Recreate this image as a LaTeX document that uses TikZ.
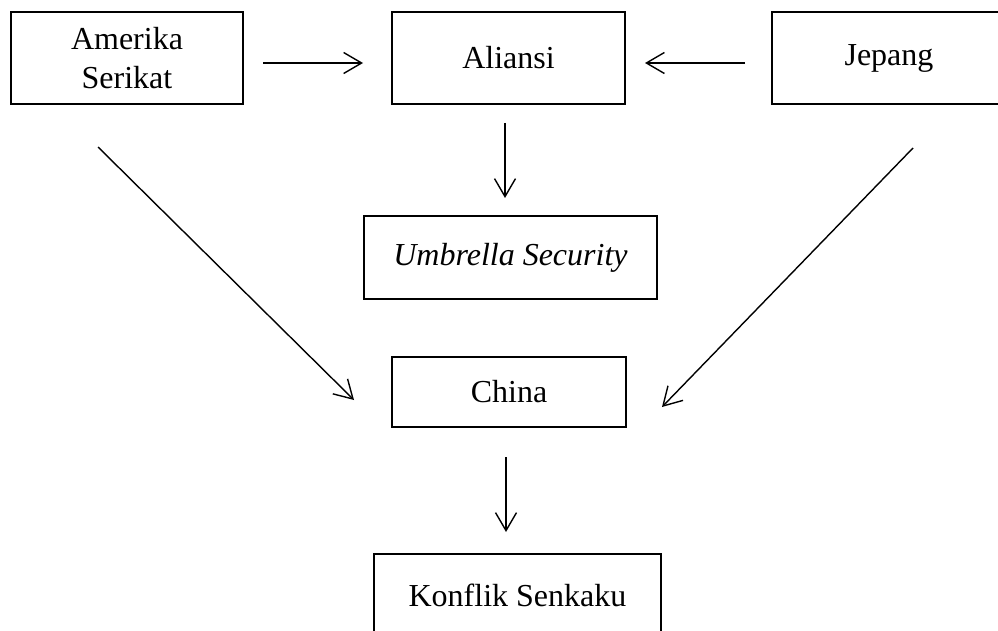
\documentclass[tikz,border=0pt]{standalone}
\usepackage{fontspec}
\setmainfont{Liberation Serif}
\usetikzlibrary{arrows.meta}
\begin{document}
\begin{tikzpicture}[x=1pt,y=-1pt,
  box/.style={draw=black,line width=2.6pt,rectangle,inner sep=0pt,align=center,
    font=\fontsize{32}{39}\selectfont},
  conn/.style={draw=black,line width=1.4pt,-{Straight Barb[length=18pt,width=21pt,line width=1.4pt]}}]
\useasboundingbox (0,0) rectangle (998,631);
\fill[white] (0,0) rectangle (998,631);
\node[box,minimum width=232pt,minimum height=92pt] (as) at (127,58) {Amerika\\Serikat};
\node[box,minimum width=233pt,minimum height=92pt] (al) at (508.5,58) {Aliansi};
\node[box,minimum width=234pt,minimum height=92pt] (jp) at (889,58) {Jepang};
\node[box,minimum width=293pt,minimum height=83pt] (us) at (510.5,257.5) {\itshape Umbrella Security};
\node[box,minimum width=234pt,minimum height=70pt] (cn) at (509,392) {China};
\node[box,minimum width=287pt,minimum height=82pt] (ks) at (517.5,595) {Konflik Senkaku};
\coordinate (a1) at (263,63);  \coordinate (a2) at (363,63);
\coordinate (b1) at (745,63);  \coordinate (b2) at (645,63);
\coordinate (c1) at (505,123); \coordinate (c2) at (505,198);
\coordinate (d1) at (506,457); \coordinate (d2) at (506,532);
\coordinate (e1) at (98,147);  \coordinate (e2) at (354,400);
\coordinate (f1) at (913,148); \coordinate (f2) at (662,407);
\draw[conn] (a1) -- (a2);
\draw[conn] (b1) -- (b2);
\draw[conn] (c1) -- (c2);
\draw[conn] (d1) -- (d2);
\draw[conn] (e1) -- (e2);
\draw[conn] (f1) -- (f2);
\end{tikzpicture}
\end{document}
